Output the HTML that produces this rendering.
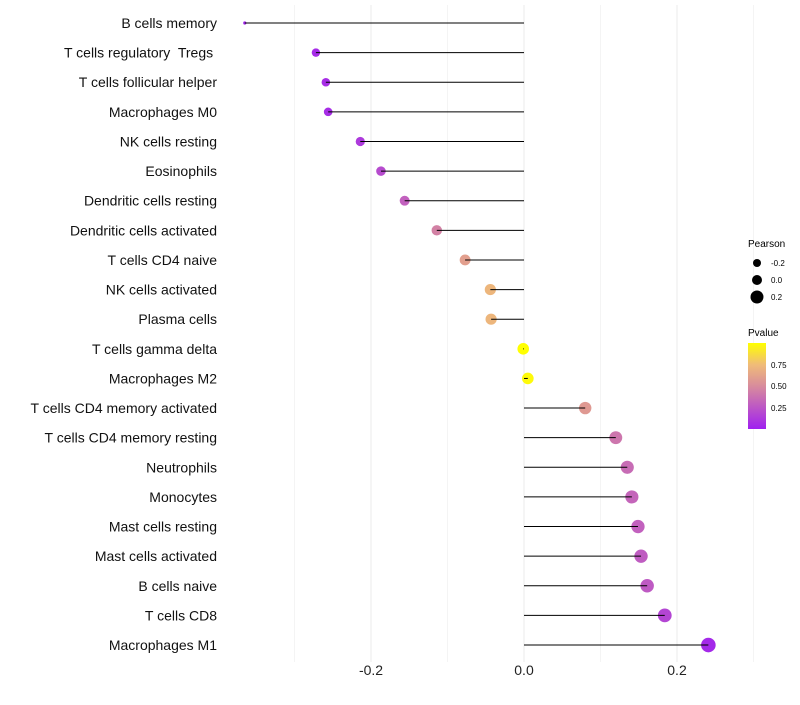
<!DOCTYPE html>
<html><head><meta charset="utf-8"><style>
body{margin:0;background:#fff;font-family:"Liberation Sans",sans-serif}
text{white-space:pre}
</style></head><body>
<svg id="c" width="800" height="700" xmlns="http://www.w3.org/2000/svg">
<defs><linearGradient id="pg" x1="0" y1="1" x2="0" y2="0">
<stop offset="0" stop-color="#A020F0"/><stop offset="0.5" stop-color="#D88C9C"/><stop offset="0.75" stop-color="#F0BC78"/><stop offset="1" stop-color="#FFFF00"/></linearGradient></defs>
<g id="grid"></g><g id="marks"></g><g id="ylab"></g><g id="xlab"></g>
<g id="legend">
<text x="748" y="247" font-size="10" fill="#000">Pearson</text>
<circle cx="757" cy="263" r="4" fill="#000"/><text x="771" y="266" font-size="8">-0.2</text>
<circle cx="757" cy="280" r="5" fill="#000"/><text x="771" y="283" font-size="8">0.0</text>
<circle cx="757" cy="297" r="6.5" fill="#000"/><text x="771" y="300" font-size="8">0.2</text>
<text x="748" y="336" font-size="10">Pvalue</text>
<rect x="748" y="343" width="18" height="86" fill="url(#pg)"/>
<text x="771" y="368" font-size="8">0.75</text>
<text x="771" y="389" font-size="8">0.50</text>
<text x="771" y="411" font-size="8">0.25</text>
</g>
</svg>
<script>
const categories=["B cells memory","T cells regulatory  Tregs ","T cells follicular helper","Macrophages M0","NK cells resting","Eosinophils","Dendritic cells resting","Dendritic cells activated","T cells CD4 naive","NK cells activated","Plasma cells","T cells gamma delta","Macrophages M2","T cells CD4 memory activated","T cells CD4 memory resting","Neutrophils","Monocytes","Mast cells resting","Mast cells activated","B cells naive","T cells CD8","Macrophages M1"];
const pearson=[-0.365,-0.272,-0.259,-0.256,-0.214,-0.187,-0.156,-0.114,-0.077,-0.044,-0.043,-0.001,0.005,0.080,0.120,0.135,0.141,0.149,0.153,0.161,0.184,0.241];
const pvalues=[0.02,0.05,0.06,0.06,0.12,0.2,0.3,0.45,0.6,0.72,0.72,1.0,0.98,0.57,0.4,0.35,0.32,0.3,0.28,0.27,0.17,0.04];
const xticks=[-0.2,0.0,0.2];
const NS="http://www.w3.org/2000/svg";
const xs=v=>524+v*765;
const ys=i=>23+i*29.62;
const sk=[[-0.365,1.6],[-0.3,4.0],[-0.2,4.7],[-0.1,5.3],[0,5.8],[0.1,6.3],[0.241,7.3]];
function rs(v){for(let k=0;k<sk.length-1;k++){const a=sk[k],b=sk[k+1];if(v<=b[0]){const t=Math.max(0,(v-a[0])/(b[0]-a[0]));return a[1]+(b[1]-a[1])*t;}}return sk[sk.length-1][1];}
const cs=[[0,[160,32,240]],[0.5,[216,140,156]],[0.75,[240,188,120]],[1,[255,255,0]]];
function col(p){p=Math.max(0,Math.min(1,p));for(let k=0;k<cs.length-1;k++){const a=cs[k],b=cs[k+1];if(p<=b[0]){const t=(p-a[0])/(b[0]-a[0]);const c=a[1].map((x,j)=>Math.round(x+(b[1][j]-x)*t));return `rgb(${c[0]},${c[1]},${c[2]})`;}}return 'rgb(255,255,0)';}
function mk(tag,at,parent){const e=document.createElementNS(NS,tag);for(const k in at)e.setAttribute(k,at[k]);document.getElementById(parent).appendChild(e);return e;}
for(let v=-0.3;v<=0.31;v+=0.1){
 const g=mk('line',{x1:xs(v),x2:xs(v),y1:5,y2:662,stroke:Math.abs(Math.round(v*10))%2===0?'#ebebeb':'#f4f4f4','stroke-width':1},'grid');
 
 
}
xticks.forEach(t=>{const e=mk('text',{x:xs(t),y:675,'font-size':14,'text-anchor':'middle',fill:'#222'},'xlab');e.textContent=t.toFixed(1);
 
 });
categories.forEach((c,i)=>{
 const d=mk('circle',{cx:xs(pearson[i]),cy:ys(i),r:rs(pearson[i]),fill:col(pvalues[i])},'marks');
 
 
 const l=mk('line',{x1:xs(0),x2:xs(pearson[i]),y1:ys(i),y2:ys(i),stroke:'#000','stroke-width':1},'marks');
 
 
 const t=mk('text',{x:217,y:ys(i)+5,'font-size':14,'text-anchor':'end',fill:'#111'},'ylab');
 t.textContent=c;
 
 
});
</script>
</body></html>
